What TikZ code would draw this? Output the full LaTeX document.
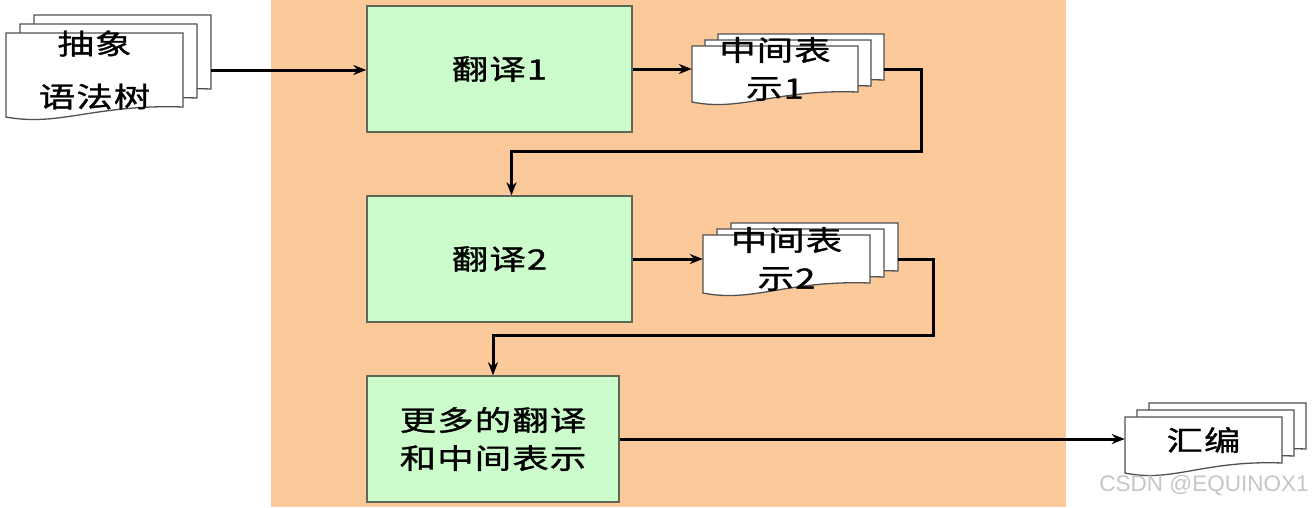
\documentclass[tikz,border=0pt]{standalone}
\usepackage{fontspec}
\setmainfont{Liberation Sans}
\newfontfamily\cjk[FakeStretch=1.3,LetterSpace=4,FakeBold=1.2]{Noto Sans CJK SC}
\usetikzlibrary{positioning, arrows.meta, calc}

\definecolor{passorange}{HTML}{FCC99A}
\definecolor{passgreen}{HTML}{CCFCCC}
\definecolor{boxline}{HTML}{5E6656}
\definecolor{sheetline}{HTML}{505050}

% one sheet with a wavy lower edge: left, top, width, height
\newcommand{\docsheet}[4]{%
  \filldraw[sheet, shift={({#1},{#2})}] (0,0) -- (#3,0) -- (#3,#4)
    .. controls ({0.5*#3},{#4-3}) and ({0.3*#3},{#4+20}) .. (0,{#4+10}) -- cycle;}
% three stacked sheets: left, top, width, height, dx, dy
\newcommand{\docstack}[6]{%
  \docsheet{#1+2*#5}{#2-2*#6}{#3}{#4}
  \docsheet{#1+#5}{#2-#6}{#3}{#4}
  \docsheet{#1}{#2}{#3}{#4}}

\begin{document}
\begin{tikzpicture}[x=1pt, y=-1pt,
    arrow/.style={-{Stealth[length=13pt, width=10pt]}, line width=3pt},
    sheet/.style={draw=sheetline, fill=white, line width=1.3pt},
    passbox/.style={draw=boxline, fill=passgreen, line width=1.5pt, minimum width=265pt,
                    minimum height=126pt, align=center, font=\cjk\fontsize{28}{38}\selectfont},
    doc/.style={inner sep=0pt, align=center, font=\cjk\fontsize{28}{38}\selectfont}
]
    \useasboundingbox (0,0) rectangle (1315,507);

    % Backend band
    \fill[passorange] (271,0) rectangle (1066,507);

    % Translation passes
    \node[passbox] (t1) at (499.5,69) {翻译1};
    \node[passbox] (t2) at (499.5,259) {翻译2};
    \node[passbox, minimum width=252pt] (t3) at (493,439) {更多的翻译\\和中间表示};

    % Document stacks
    \docstack{6}{33}{177}{74}{14}{9}
    \node[doc, minimum width=177pt, minimum height=74pt, font=\cjk\fontsize{28}{53}\selectfont] (ast) at (94.5,70) {抽象\\语法树};

    \docstack{692}{46}{166}{46}{13}{6}
    \node[doc, minimum width=166pt, minimum height=46pt] (ir1) at (775,69) {中间表\\示1};

    \docstack{703}{235}{167}{48}{14}{6}
    \node[doc, minimum width=167pt, minimum height=48pt] (ir2) at (786.5,259) {中间表\\示2};

    \docstack{1125}{417}{157}{46}{12}{7}
    \node[doc, minimum width=157pt, minimum height=46pt] (asm) at (1203.5,440) {汇编};

    % Connectors
    \coordinate (ast-out) at ([xshift=28pt]ast.east);
    \draw[arrow] (ast-out) -- (ast-out -| t1.west);
    \draw[arrow] (t1.east) -- (t1.east -| ir1.west);

    \coordinate (ir1-out) at ([xshift=26pt]ir1.east);
    \coordinate (bend1) at (921,151);
    \draw[arrow] (ir1-out) -| (bend1) -| ([xshift=12pt]t2.north);

    \draw[arrow] (t2.east) -- (t2.east -| ir2.west);
    \coordinate (ir2-out) at ([xshift=28pt]ir2.east);
    \coordinate (bend2) at (933,335);
    \draw[arrow] (ir2-out) -| (bend2) -| (t3.north);

    \draw[arrow] (t3.east) -- (t3.east -| asm.west);

    % Watermark
    \node[font=\fontsize{22.5}{24}\selectfont, text=gray!45] (mark) at (1204,485) {CSDN @EQUINOX1};

\end{tikzpicture}
\end{document}
